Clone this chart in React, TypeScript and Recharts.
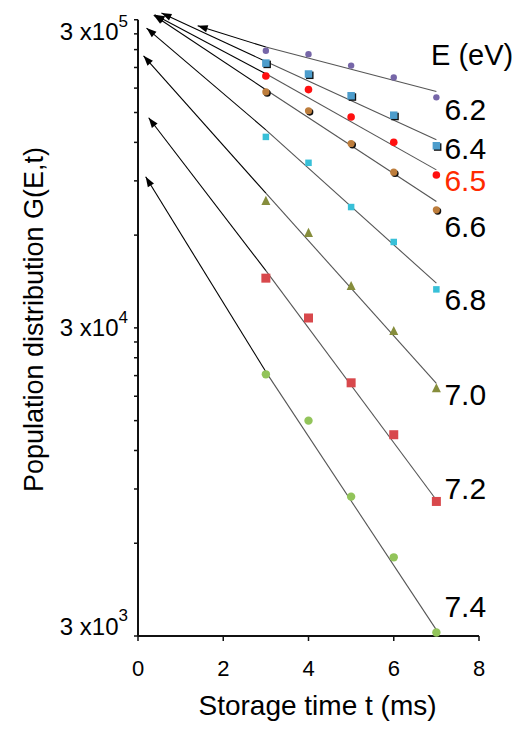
import React from 'react';
import { ComposedChart, Line, Scatter, XAxis, YAxis, ReferenceLine, Label } from 'recharts';

// storage times (ms) where G(E,t) was measured
const times = [3, 4, 5, 6, 7];
const energies = ['6.2', '6.4', '6.5', '6.6', '6.8', '7.0', '7.2', '7.4'];

// measured population, one array per energy
const g62 = [238000, 232000, 213000, 195000, 168000];
const g64 = [217000, 200000, 170000, 147000, 117000];
const g65 = [197000, 178000, 145000, 120000, 94000];
const g66 = [175000, 152000, 119000, 96000, 72500];
const g68 = [125000, 103000, 74000, 57000, 40000];
const g70 = [77500, 61000, 41000, 29300, 19100];
const g72 = [43500, 32300, 19900, 13500, 8200];
const g74 = [21200, 15000, 8500, 5400, 3080];
const measured = [g62, g64, g65, g66, g68, g70, g72, g74];

// exponential fits at t = 3 and t = 7
const fitStart = [244600, 219600, 200300, 177800, 131800, 82100, 46000, 21600];
const fitEnd = [175600, 122300, 97700, 77100, 41900, 19800, 8290, 3140];

// extrapolation arrows back towards t = 0
const arrowTipT = [1.4, 0.55, 0.39, 0.37, 0.2, 0.13, 0.25, 0.18];
const arrowTipG = [286800, 315300, 311400, 310200, 281900, 229200, 144200, 92800];

const xTicks = [0, 2, 4, 6, 8];
const yMajorTicks = [3000, 30000, 300000];
const yMinorTicks = [
  6000, 9000, 12000, 15000, 18000, 21000, 24000, 27000,
  60000, 90000, 120000, 150000, 180000, 210000, 240000, 270000,
];
const exponents: Record<number, string> = { 3000: '3', 30000: '4', 300000: '5' };

const FONT = '"Liberation Sans", Arial, Helvetica, sans-serif';

type MarkerStyle = {
  shape: 'circle' | 'square' | 'triangle';
  size: number;
  fill: string;
  shadow?: boolean;
  labelDy: number;
  labelColor?: string;
};

const markerStyles: MarkerStyle[] = [
  { shape: 'circle', size: 3.2, fill: '#7666a8', labelDy: 12 },
  { shape: 'square', size: 7.5, fill: '#4d9dcc', shadow: true, labelDy: 3 },
  { shape: 'circle', size: 3.8, fill: '#ff1010', labelDy: 5, labelColor: '#ff2a00' },
  { shape: 'circle', size: 3.6, fill: '#bd7d3c', shadow: true, labelDy: 17 },
  { shape: 'square', size: 6.5, fill: '#38c0d8', labelDy: 10 },
  { shape: 'triangle', size: 9, fill: '#868d3c', labelDy: 6 },
  { shape: 'square', size: 9, fill: '#d8484c', labelDy: -13 },
  { shape: 'circle', size: 4.2, fill: '#92c45a', labelDy: -26 },
];

const markerShape = (st: MarkerStyle) => (props: any) => {
  const { cx, cy, payload } = props;
  const draw = (x: number, y: number, fill: string) => {
    if (st.shape === 'circle') return <circle cx={x} cy={y} r={st.size} fill={fill} />;
    if (st.shape === 'square')
      return <rect x={x - st.size / 2} y={y - st.size / 2} width={st.size} height={st.size} fill={fill} />;
    const h = st.size * 0.9;
    return (
      <polygon
        points={`${x},${y - h / 2 - 1} ${x - st.size / 2},${y + h / 2} ${x + st.size / 2},${y + h / 2}`}
        fill={fill}
      />
    );
  };
  return (
    <g>
      {st.shadow && draw(cx + 1.3, cy + 1.3, '#111')}
      {draw(cx, cy, st.fill)}
      {payload.label && (
        <text
          x={cx + 8}
          y={cy + st.labelDy}
          dominantBaseline="central"
          fontSize={30}
          fontFamily={FONT}
          fill={st.labelColor || '#000'}
        >
          {payload.label}
        </text>
      )}
    </g>
  );
};

const ArrowTip = (props: any) => {
  const { cx, cy, index, points } = props;
  if (index !== 1 || !points || points.length < 2) return <g key={`tip-${index}`} />;
  const p0 = points[0];
  const ang = Math.atan2(cy - p0.y, cx - p0.x);
  const len = 10;
  const half = 3.6;
  const bx = cx - len * Math.cos(ang);
  const by = cy - len * Math.sin(ang);
  const nx = -Math.sin(ang) * half;
  const ny = Math.cos(ang) * half;
  return (
    <polygon
      key={`tip-${index}`}
      points={`${cx},${cy} ${bx + nx},${by + ny} ${bx - nx},${by - ny}`}
      fill="#000"
    />
  );
};

const YTick = (props: any) => {
  const { x, y, payload } = props;
  const exp = exponents[payload.value];
  if (!exp) return <g />;
  const dy = payload.value === 300000 ? 12 : payload.value === 3000 ? -10 : 0;
  return (
    <text x={x - 4} y={y + dy} textAnchor="end" dominantBaseline="central" fontSize={24} fontFamily={FONT} fill="#000">
      3 x10
      <tspan dy={-11} fontSize={17}>
        {exp}
      </tspan>
    </text>
  );
};

export default function App() {
  const pointSets = measured.map((vals, s) =>
    vals.map((v, i) => ({ t: times[i], v, label: i === times.length - 1 ? energies[s] : undefined }))
  );
  const fitSets = energies.map((_, s) => [
    { t: times[0], v: fitStart[s] },
    { t: times[times.length - 1], v: fitEnd[s] },
  ]);
  const arrowSets = energies.map((_, s) => [
    { t: times[0], v: fitStart[s] },
    { t: arrowTipT[s], v: arrowTipG[s] },
  ]);

  return (
    <div style={{ position: 'absolute', left: 0, top: 0, width: 520, height: 729, background: '#fff', fontFamily: FONT }}>
      <ComposedChart width={520} height={729} margin={{ top: 3, right: 41, left: 0, bottom: 43 }}>
        <XAxis
          dataKey="t"
          type="number"
          domain={[0, 8]}
          ticks={xTicks}
          interval={0}
          tickSize={5}
          tickMargin={19}
          tick={{ fontSize: 22, fill: '#000', fontFamily: FONT }}
          axisLine={{ stroke: '#111', strokeWidth: 2 }}
          tickLine={{ stroke: '#111', strokeWidth: 1.5 }}
          height={50}
        >
          <Label
            value="Storage time t (ms)"
            position="bottom"
            offset={9}
            dx={9}
            style={{ fontSize: 28, fill: '#000', fontFamily: FONT }}
          />
        </XAxis>
        <YAxis
          dataKey="v"
          type="number"
          scale="log"
          domain={[3000, 340000]}
          ticks={[...yMajorTicks, ...yMinorTicks]}
          interval={0}
          tick={<YTick />}
          tickSize={4}
          axisLine={false}
          tickLine={{ stroke: '#111', strokeWidth: 1.5 }}
          width={138}
        >
          <Label
            content={(p: any) => {
              const vb = p.viewBox || {};
              const cx = (vb.x || 0) + 34;
              const cy = (vb.y || 0) + (vb.height || 0) / 2;
              return (
                <text
                  x={cx}
                  y={cy}
                  transform={`rotate(-90, ${cx}, ${cy})`}
                  textAnchor="middle"
                  dominantBaseline="central"
                  fontSize={27}
                  fontFamily={FONT}
                  fill="#000"
                >
                  Population distribution G(E,t)
                </text>
              );
            }}
          />
        </YAxis>
        <ReferenceLine
          segment={[
            { x: 0, y: 3000 },
            { x: 0, y: 300000 },
          ]}
          stroke="#111"
          strokeWidth={2}
        />
        {arrowSets.map((d, s) => (
          <Line
            key={`arrow-${s}`}
            data={d}
            dataKey="v"
            type="linear"
            stroke="#000"
            strokeWidth={1.1}
            dot={ArrowTip}
            activeDot={false}
            isAnimationActive={false}
          />
        ))}
        {fitSets.map((d, s) => (
          <Line
            key={`fit-${s}`}
            data={d}
            dataKey="v"
            type="linear"
            stroke="#555"
            strokeWidth={1.1}
            dot={false}
            activeDot={false}
            isAnimationActive={false}
          />
        ))}
        {pointSets.map((d, s) => (
          <Scatter
            key={`pts-${s}`}
            data={d}
            dataKey="v"
            shape={markerShape(markerStyles[s])}
            isAnimationActive={false}
          />
        ))}
      </ComposedChart>
      <div style={{ position: 'absolute', left: 431, top: 41, fontSize: 29, lineHeight: '29px', color: '#000' }}>
        E (eV)
      </div>
    </div>
  );
}
